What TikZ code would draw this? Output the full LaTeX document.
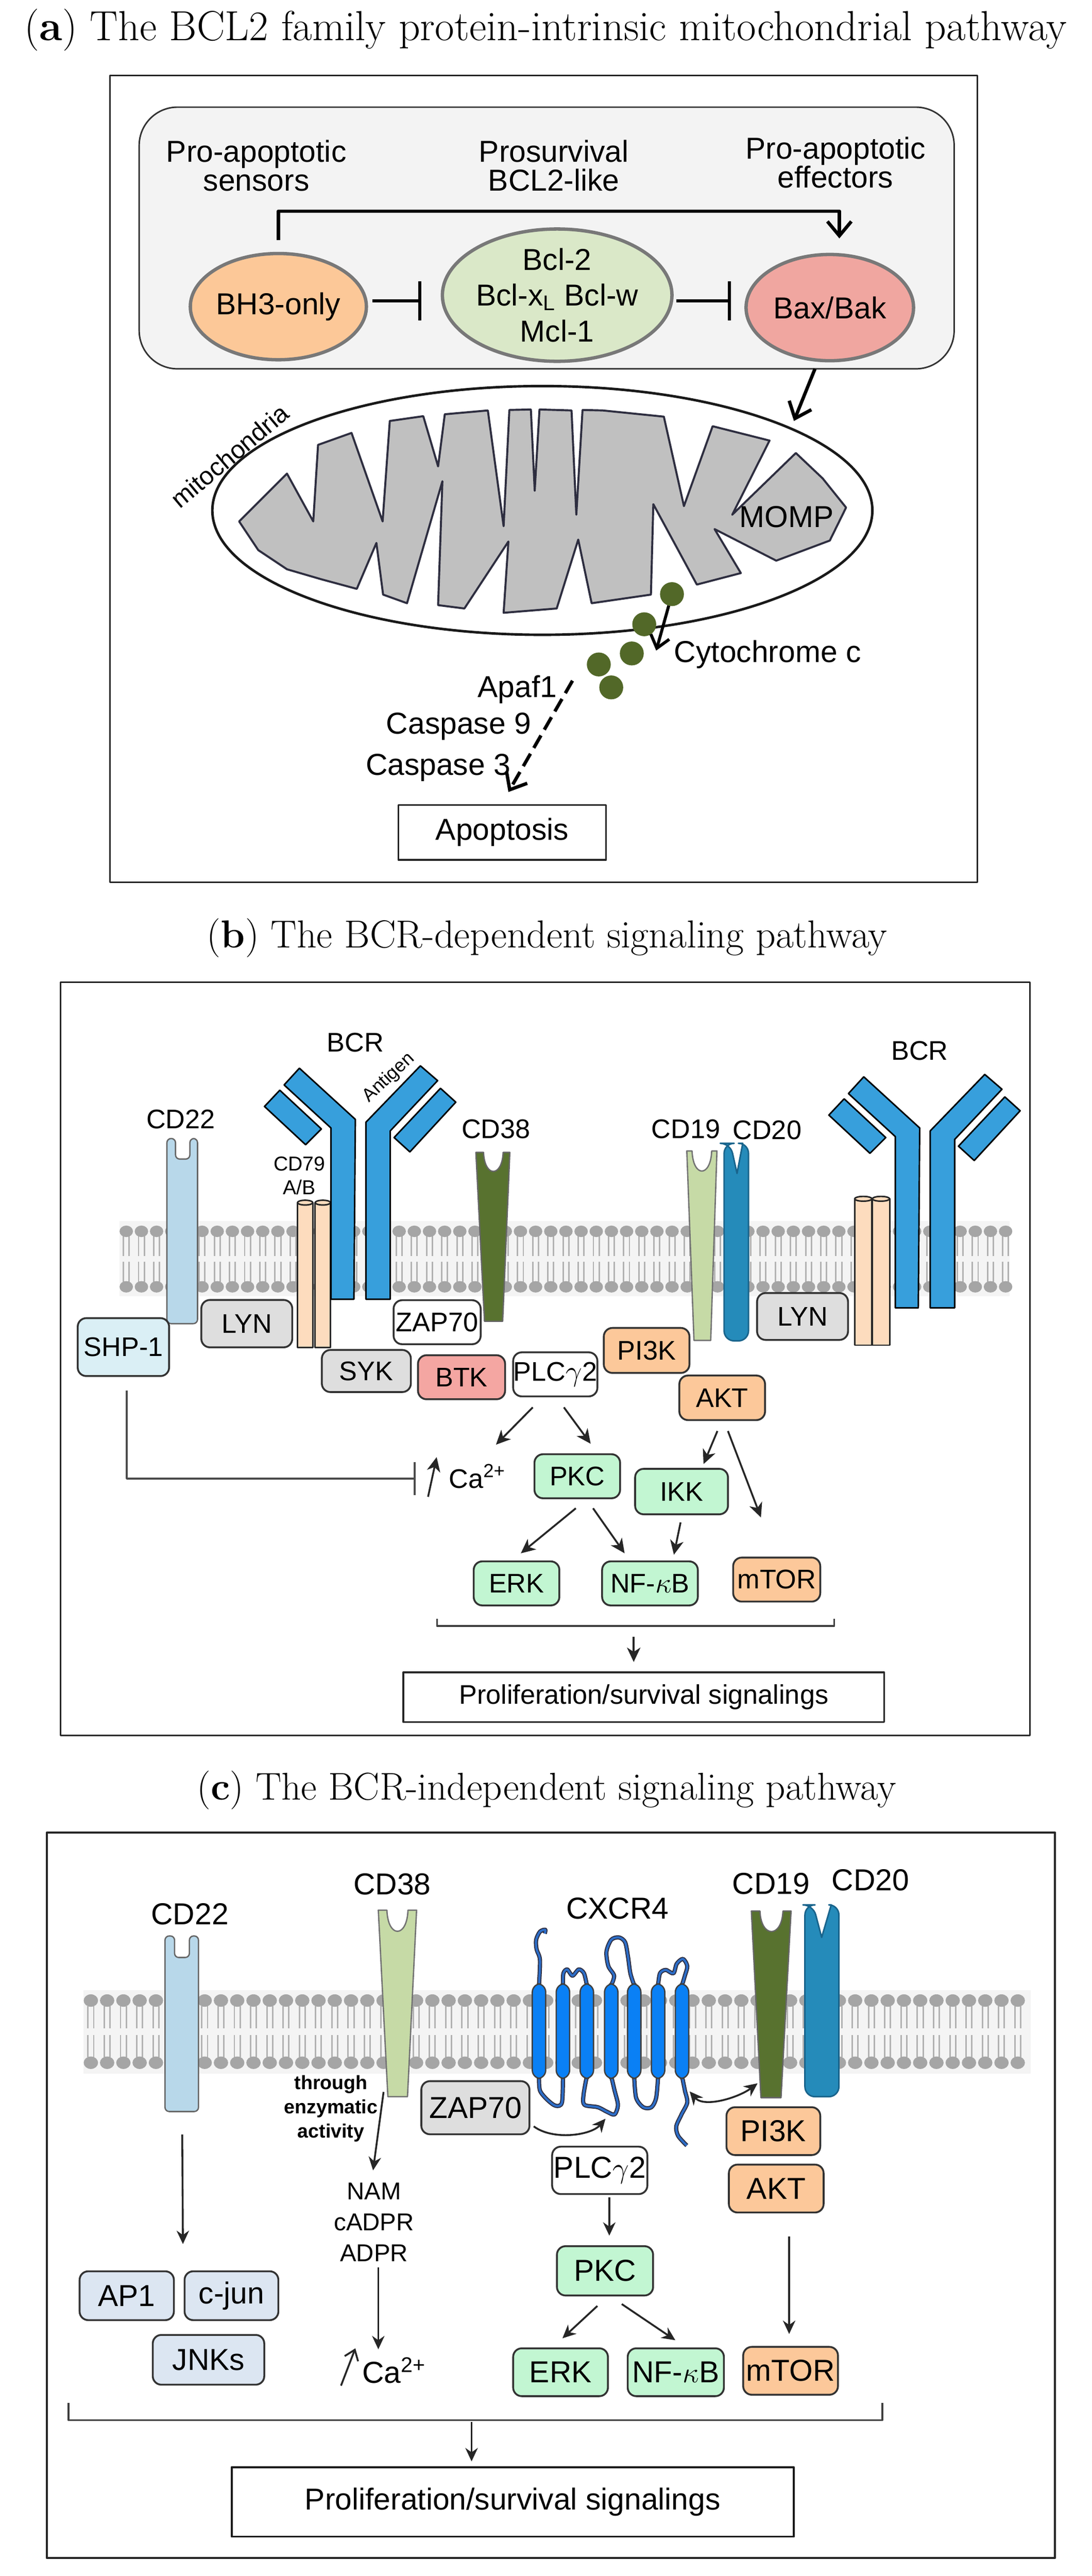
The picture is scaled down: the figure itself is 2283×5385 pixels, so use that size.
\documentclass[tikz,border=0pt]{standalone}
\usepackage{fontspec}
\setsansfont{Liberation Sans}
\usetikzlibrary{shapes.geometric,arrows.meta,calc}

\definecolor{grpgray}{RGB}{243,243,243}
\definecolor{bhfill}{RGB}{252,200,152}
\definecolor{bclfill}{RGB}{218,232,200}
\definecolor{baxfill}{RGB}{240,166,160}
\definecolor{ellline}{RGB}{120,120,120}
\definecolor{mitofill}{RGB}{192,192,192}
\definecolor{mitoline}{RGB}{46,46,64}
\definecolor{cytc}{RGB}{82,104,40}
\definecolor{bcrblue}{RGB}{55,159,220}
\definecolor{cdblue}{RGB}{184,216,234}
\definecolor{cylpeach}{RGB}{253,220,190}
\definecolor{darkolive}{RGB}{88,114,47}
\definecolor{palegreen}{RGB}{198,218,166}
\definecolor{tealc}{RGB}{37,139,186}
\definecolor{tealline}{RGB}{25,100,140}
\definecolor{shpfill}{RGB}{218,239,245}
\definecolor{greybox}{RGB}{222,222,222}
\definecolor{btkfill}{RGB}{244,166,162}
\definecolor{peach}{RGB}{252,200,154}
\definecolor{mint}{RGB}{194,246,210}
\definecolor{jnkfill}{RGB}{220,230,242}
\definecolor{helixc}{RGB}{10,128,245}
\definecolor{loopc}{RGB}{45,110,200}
\definecolor{lipid}{RGB}{165,165,165}
\definecolor{lipidtail}{RGB}{178,178,178}
\definecolor{lipidbg}{RGB}{244,244,244}

\newcommand{\fntttl}[1]{\rmfamily\fontsize{#1}{28}\selectfont}
\newcommand{\fnta}{\sffamily\fontsize{18}{17.3}\selectfont}
\newcommand{\fntbcl}{\sffamily\fontsize{18}{21.2}\selectfont}
\newcommand{\fntb}{\sffamily\fontsize{16}{18}\selectfont}
\newcommand{\fntc}{\sffamily\fontsize{18}{20}\selectfont}
\newcommand{\fntcd}{\sffamily\fontsize{12}{14.2}\selectfont}
\newcommand{\fntag}{\sffamily\fontsize{11}{13}\selectfont}
\newcommand{\fntth}{\sffamily\bfseries\fontsize{11.5}{14.5}\selectfont}
\newcommand{\fntnam}{\sffamily\fontsize{14.5}{18.4}\selectfont}
\newcommand{\fntmito}{\sffamily\fontsize{15}{17}\selectfont}

\begin{document}
\begin{tikzpicture}[x=0.01cm,y=-0.01cm,line join=round]
        \tikzstyle{every node}=[inner sep=0pt];
        \tikzstyle{frame}=[draw=black!85, line width=0.9pt];
        \tikzstyle{grpbox}=[draw=black!80, line width=0.9pt, fill=grpgray, rounded corners=0.8cm];
        \tikzstyle{bcl2}=[ellipse, draw=ellline, line width=2pt, font=\fnta];
        \tikzstyle{arA}=[line width=2pt, -{Straight Barb[length=0.3cm, width=0.5cm]}];
        \tikzstyle{arA2}=[line width=1.8pt, shorten <=0.25cm, -{Straight Barb[length=0.25cm, width=0.4cm]}];
        \tikzstyle{inhA}=[line width=2pt, -{Bar[width=0.81cm]}];
        \tikzstyle{tail}=[draw=lipidtail, line width=0.9pt];
        \tikzstyle{prot}=[draw=black!80, line width=1.1pt, rounded corners=0.18cm];
        \tikzstyle{protb}=[prot, font=\fntb, minimum width=1.8cm, minimum height=0.92cm];
        \tikzstyle{protc}=[prot, font=\fntc, minimum width=1.98cm, minimum height=1cm];
        \tikzstyle{arB}=[draw=black!85, line width=1.1pt, -{Stealth[length=0.3cm, width=0.28cm, inset=0.09cm]}];
        \tikzstyle{arC}=[draw=black!85, line width=1.1pt, -{Stealth[length=0.28cm, width=0.26cm]}];
        \tikzstyle{inhB}=[draw=black!70, line width=1.1pt, -{Bar[width=0.69cm]}];
        \tikzstyle{brace}=[draw=black!75, line width=1.1pt];
        \tikzstyle{bcrst}=[fill=bcrblue, draw=black, line width=0.9pt];
        \tikzstyle{cylst}=[fill=cylpeach, draw=black!85, line width=0.9pt];
        \tikzstyle{cdbst}=[fill=cdblue, draw=black!60, line width=0.8pt, rounded corners=2.5pt];
        \tikzstyle{olivest}=[fill=darkolive, draw=black!60, line width=0.8pt];
        \tikzstyle{palest}=[fill=palegreen, draw=black!55, line width=0.8pt];
        \tikzstyle{tealst}=[fill=tealc, draw=tealline, line width=0.9pt];
        \tikzstyle{helixst}=[fill=helixc, draw=black!75, line width=0.8pt, rounded corners=5pt];
        \tikzstyle{loopst}=[draw=mitoline, double=loopc, double distance=1.3pt, line width=0.6pt];

        \fill[white] (0,0) rectangle (2283,5385);
        \useasboundingbox (0,0) rectangle (2283,5385);

        % (a) BCL2 family pathway
        \node[font=\fntttl{25}] (ttlA) at (1141,63) {(\textbf{a}) The BCL2 family protein-intrinsic mitochondrial pathway};
        \draw[frame] (230,158) rectangle (2044,1844);
        \draw[grpbox] (291,224) rectangle (1995,771);
        \coordinate (grpfoot) at (1704,771);
        \node[font=\fnta, align=center] (sensA) at (536,346) {Pro-apoptotic\\sensors};
        \node[font=\fnta, align=center] (survA) at (1158,346) {Prosurvival\\BCL2-like};
        \node[font=\fnta, align=center] (effA) at (1747,340) {Pro-apoptotic\\effectors};
        \node[bcl2, fill=bhfill, minimum width=3.46cm, minimum height=2.22cm] (bh3) at (582,641) {BH3-only};
        \node[bcl2, fill=bclfill, minimum width=3.96cm, minimum height=2.52cm, align=center, font=\fntbcl] (bcl) at (1165,617) {Bcl-2\\Bcl-x\textsubscript{L} Bcl-w\\Mcl-1};
        \node[bcl2, fill=baxfill, minimum width=3.5cm, minimum height=2.22cm] (bax) at (1735,643) {Bax/Bak};
        \draw[inhA] ($(bh3.east)+(9,-12)$) -- ($(bcl.west)+(-40,12)$);
        \draw[inhA] ($(bcl.east)+(6,12)$) -- ($(bax.west)+(-28,-14)$);
        \draw[arA] ($(bh3.north)+(0,-25)$) -- ++(0,-60) -| ($(bax.north)+(20,-30)$);

        \draw[draw=black!90, line width=1.5pt, fill=white] (1134,1067) ellipse (690 and 260);
        \coordinate (mitoedge) at (1660,880);
        \draw[arA] (grpfoot) -- (mitoedge);
        \draw[fill=mitofill, draw=mitoline, line width=1.2pt] (500,1090) -- (600,990) -- (655,1090) -- (665,930) -- (735,905) -- (800,1090) -- (815,880) -- (885,870) -- (916,975) -- (930,866) -- (1020,858) -- (1053,1100) -- (1065,857) -- (1110,856) -- (1118,1026) -- (1128,856) -- (1195,858) -- (1205,1076) -- (1218,857) -- (1260,858) -- (1388,871) -- (1430,1058) -- (1490,891) -- (1609,921) -- (1531,1076) -- (1664,947) -- (1720,1000) -- (1769,1061) -- (1735,1130) -- (1623,1172) -- (1494,1106) -- (1549,1198) -- (1457,1222) -- (1366,1054) -- (1361,1243) -- (1237,1261) -- (1209,1128) -- (1164,1272) -- (1053,1281) -- (1063,1132) -- (971,1272) -- (916,1265) -- (925,1006) -- (851,1261) -- (801,1243) -- (787,1135) -- (746,1231) -- (672,1211) -- (600,1190) -- (540,1150) -- cycle;
        \node[font=\fntmito, rotate=40] (mitoA) at (480,953) {mitochondria};
        \node[font=\fnta] (momp) at (1645,1081) {MOMP};

        \foreach \n/\x/\y in {c1/1405/1242, c2/1347/1305, c3/1321/1366, c4/1252/1389, c5/1278/1437} {
            \coordinate (\n) at (\x,\y);
            \fill[cytc] (\n) circle (25);
        }
        \node[font=\fnta, anchor=west] (cyt) at (1409,1368) {Cytochrome c};
        \draw[arA2] (c1) -- ($(cyt.west)+(-37,-8)$);
        \node[font=\fnta, anchor=east] (apaf) at (1165,1441) {Apaf1};
        \node[font=\fnta, anchor=east] (casp9) at (1111,1519) {Caspase 9};
        \node[font=\fnta, anchor=east] (casp3) at (1068,1605) {Caspase 3};
        \node[draw=black!85, line width=1pt, font=\fnta, minimum width=4.34cm, minimum height=1.15cm] (apop) at (1050,1740) {Apoptosis};
        \draw[arA, dash pattern=on 0.3cm off 0.14cm] ($(apaf.east)+(32,-18)$) -- ($(apop.north)+(13,-25)$);

        % (b) BCR-dependent pathway
        \node[font=\fntttl{23.2}] (ttlB) at (1144,1961) {(\textbf{b}) The BCR-dependent signaling pathway};
        \draw[frame] (127,2053) rectangle (2153,3628);
        \fill[lipidbg] (250,2553) rectangle (2111,2710);
        \foreach \i [evaluate=\i as \x using 264+31.7*\i] in {0,...,58} {
            \draw[tail] (\x-6,2584) -- (\x-6,2626) (\x+6,2584) -- (\x+6,2626) (\x-6,2638) -- (\x-6,2680) (\x+6,2638) -- (\x+6,2680);
            \fill[lipid] (\x,2574) ellipse (14 and 12) (\x,2690) ellipse (14 and 12);
        }
        \draw[cdbst] (349,2767) -- (349,2380) -- (367,2380) -- (367,2423) -- (397,2423) -- (397,2380) -- (413,2380) -- (413,2767) -- cycle;
        \node[font=\fntb] (cd22b) at (378,2340) {CD22};
        \foreach \x/\w/\t/\b in {622/32/2514/2817, 659/32/2514/2817, 1787/36/2506/2812, 1824/36/2506/2812} {
            \filldraw[cylst] (\x,\t) rectangle (\x+\w,\b);
            \filldraw[cylst] (\x+\w/2,\t) ellipse (\w/2 and 5);
        }
        \node[font=\fntcd, align=center] (cd79) at (626,2458) {CD79\\A/B};
        \foreach \dx/\dy in {0/0, 1180/18} {
            \begin{scope}[shift={(\dx,\dy)}]
                \draw[bcrst] (692,2716) -- (692,2358) -- (594,2268) -- (626,2233) -- (743,2340) -- (740,2716) -- cycle;
                \draw[bcrst] (553,2313) -- (585,2279) -- (672,2360) -- (639,2393) -- cycle;
                \draw[bcrst] (765,2716) -- (765,2346) -- (879,2228) -- (915,2259) -- (816,2364) -- (816,2716) -- cycle;
                \draw[bcrst] (824,2378) -- (921,2275) -- (953,2304) -- (857,2408) -- cycle;
                \node[font=\fntb] (bcrlbl\dx) at (743,2179) {BCR};
            \end{scope}
        }
        \node[font=\fntag, rotate=43] (antigen) at (813,2253) {Antigen};
        \draw[olivest] (995,2409) -- (1013,2762) -- (1051,2762) -- (1066,2409) -- (1052,2409) .. controls (1050,2462) and (1013,2462) .. (1011,2409) -- cycle;
        \node[font=\fntb] (cd38b) at (1037,2360) {CD38};
        \draw[palest] (1436,2406) -- (1451,2802) -- (1486,2802) -- (1499,2406) -- (1488,2406) .. controls (1486,2462) and (1449,2462) .. (1447,2406) -- cycle;
        \draw[tealst, rounded corners=6pt] (1514,2803) -- (1514,2390) -- (1527,2390) [sharp corners] -- (1541,2453) -- (1553,2390) [rounded corners=6pt] -- (1565,2390) -- (1565,2803) -- cycle;
        \node[font=\fntb] (cd19b) at (1434,2360) {CD19};
        \node[font=\fntb] (cd20b) at (1604,2362) {CD20};

        \node[protb, fill=shpfill, minimum width=1.91cm, minimum height=1.21cm] (shp) at (258,2816) {SHP-1};
        \node[protb, fill=greybox, minimum width=1.9cm, minimum height=0.99cm] (lynl) at (516,2767) {LYN};
        \node[protb, fill=white, minimum width=1.82cm] (zapb) at (914,2764) {ZAP70};
        \node[protb, fill=greybox, minimum width=1.86cm, minimum height=0.88cm] (syk) at (766,2866) {SYK};
        \node[protb, fill=btkfill, minimum width=1.82cm] (btk) at (965,2879) {BTK};
        \node[protb, fill=white, minimum width=1.76cm] (plcb) at (1161,2873) {PLC$\gamma$2};
        \node[protb, fill=peach, minimum width=1.79cm, minimum height=0.94cm] (pi3kb) at (1352,2823) {PI3K};
        \node[protb, fill=peach, minimum width=1.79cm, minimum height=0.93cm] (aktb) at (1510,2922) {AKT};
        \node[protb, fill=greybox, minimum width=1.9cm, minimum height=0.98cm] (lynr) at (1678,2752) {LYN};
        \node[protb, fill=mint, minimum width=1.79cm] (pkcb) at (1207,3086) {PKC};
        \node[protb, fill=mint, minimum width=1.94cm, minimum height=0.95cm] (ikk) at (1425,3118) {IKK};
        \node[protb, fill=mint, minimum width=1.79cm] (erkb) at (1080,3310) {ERK};
        \node[protb, fill=mint, minimum width=2cm] (nfkbb) at (1359,3310) {NF-$\kappa$B};
        \node[protb, fill=peach, minimum width=1.82cm] (mtorb) at (1624,3302) {mTOR};
        \node[font=\fntb, anchor=west] (cab) at (938,3086) {Ca\textsuperscript{2+}};

        \draw[arB] ($(plcb.south)+(-47,21)$) -- ($(cab.west)+(99,-66)$);
        \draw[arB] ($(plcb.south)+(18,21)$) -- ($(pkcb.north)+(28,-20)$);
        \draw[arB] ($(aktb.south)+(-10,21)$) -- ($(ikk.north)+(46,-8)$);
        \draw[arB] ($(aktb.south)+(12,21)$) -- ($(mtorb.north)+(-33,-82)$);
        \draw[arB] ($(pkcb.south)+(-3,19)$) -- ($(erkb.north)+(9,-15)$);
        \draw[arB] ($(pkcb.south)+(33,19)$) -- ($(nfkbb.north)+(-53,-15)$);
        \draw[arB] ($(ikk.south)+(-2,15)$) -- ($(nfkbb.north)+(50,-12)$);
        \draw[arB] ($(cab.west)+(-43,43)$) -- ($(cab.west)+(-25,-40)$);
        \draw[inhB] ($(shp.south)+(7,28)$) |- ($(cab.west)+(-69,5)$);
        \draw[brace] (914,3384) -- (914,3399) -- (1744,3399) -- (1744,3384);
        \coordinate (brB) at (1325,3399);
        \node[draw=black!85, line width=1pt, font=\fntb, minimum width=10.05cm, minimum height=1.04cm] (prolB) at (1346,3548) {Proliferation/survival signalings};
        \draw[arB] ($(brB)+(0,23)$) -- ($(prolB.north)+(-21,-20)$);

        % (c) BCR-independent pathway
        \node[font=\fntttl{23}] (ttlC) at (1143,3742) {(\textbf{c}) The BCR-independent signaling pathway};
        \draw[frame, line width=1.3pt] (98,3831) rectangle (2206,5347);
        \fill[lipidbg] (175,4160) rectangle (2155,4335);
        \foreach \i [evaluate=\i as \x using 190+34*\i] in {0,...,57} {
            \draw[tail] (\x-6,4194) -- (\x-6,4240) (\x+6,4194) -- (\x+6,4240) (\x-6,4254) -- (\x-6,4300) (\x+6,4254) -- (\x+6,4300);
            \fill[lipid] (\x,4182) ellipse (15 and 13) (\x,4312) ellipse (15 and 13);
        }
        \draw[cdbst] (345,4414) -- (345,4047) -- (365,4047) -- (365,4092) -- (396,4092) -- (396,4047) -- (415,4047) -- (415,4414) -- cycle;
        \coordinate (cd22foot) at (381,4414);
        \node[font=\fntc] (cd22c) at (397,4001) {CD22};
        \draw[palest] (791,3993) -- (811,4383) -- (852,4383) -- (871,3993) -- (853,3993) .. controls (851,4052) and (811,4052) .. (809,3993) -- cycle;
        \coordinate (cd38foot) at (831,4383);
        \node[font=\fntc] (cd38c) at (820,3939) {CD38};
        \draw[loopst] plot[smooth] coordinates {(1127,4150) (1129,4097) (1122,4075) (1121,4055) (1129,4038) (1140,4034) (1139,4042)};
        \draw[loopst] plot[smooth] coordinates {(1177,4150) (1178,4125) (1186,4117) (1197,4130) (1210,4117) (1221,4125) (1227,4150)};
        \draw[loopst] plot[smooth] coordinates {(1278,4150) (1284,4130) (1272,4110) (1268,4080) (1278,4055) (1294,4050) (1307,4060) (1313,4090) (1318,4125) (1326,4150)};
        \draw[loopst] plot[smooth] coordinates {(1376,4150) (1380,4125) (1392,4118) (1408,4125) (1415,4105) (1428,4095) (1437,4110) (1432,4130) (1426,4150)};
        \draw[loopst] plot[smooth] coordinates {(1127,4340) (1129,4370) (1145,4390) (1162,4402) (1175,4395) (1177,4340)};
        \draw[loopst] plot[smooth] coordinates {(1227,4340) (1220,4380) (1222,4400) (1250,4405) (1270,4415) (1285,4420) (1292,4400) (1285,4370) (1278,4340)};
        \draw[loopst] plot[smooth] coordinates {(1326,4340) (1330,4385) (1345,4405) (1362,4405) (1372,4385) (1376,4340)};
        \draw[loopst] plot[smooth] coordinates {(1426,4340) (1432,4370) (1437,4395) (1425,4420) (1414,4445) (1418,4465) (1436,4485)};
        \foreach \x in {1127,1177,1227,1278,1326,1376,1426}
            \draw[helixst] (\x-14,4147) rectangle (\x+14,4345);
        \coordinate (icl2) at (1266,4429);
        \coordinate (cterm) at (1442,4372);
        \node[font=\fntc] (cxcr4) at (1291,3989) {CXCR4};
        \draw[olivest] (1571,3995) -- (1591,4385) -- (1633,4385) -- (1654,3995) -- (1637,3995) .. controls (1635,4052) and (1591,4052) .. (1589,3995) -- cycle;
        \coordinate (cd19tip) at (1584,4355);
        \draw[tealst, rounded corners=6pt] (1683,4383) -- (1683,3982) -- (1700,3982) [sharp corners] -- (1718,4050) -- (1738,3982) [rounded corners=6pt] -- (1754,3982) -- (1754,4383) -- cycle;
        \node[font=\fntc] (cd19c) at (1612,3938) {CD19};
        \node[font=\fntc] (cd20c) at (1820,3930) {CD20};

        \node[protc, fill=greybox, minimum width=2.26cm, minimum height=1.11cm] (zapc) at (994,4406) {ZAP70};
        \node[protc, fill=white, minimum width=1.99cm, minimum height=0.99cm] (plcc) at (1254,4537) {PLC$\gamma$2};
        \node[protc, fill=mint, minimum width=2.01cm, minimum height=1.03cm] (pkcc) at (1265,4747) {PKC};
        \node[protc, fill=mint] (erkc) at (1172,4959) {ERK};
        \node[protc, fill=mint, minimum width=2.01cm] (nfkbc) at (1413,4959) {NF-$\kappa$B};
        \node[protc, fill=peach] (mtorc) at (1653,4956) {mTOR};
        \node[protc, fill=peach, minimum width=1.96cm] (pi3kc) at (1617,4455) {PI3K};
        \node[protc, fill=peach] (aktc) at (1623,4575) {AKT};
        \node[protc, fill=jnkfill, minimum width=1.97cm, minimum height=1.02cm] (ap1) at (265,4799) {AP1};
        \node[protc, fill=jnkfill, minimum width=1.96cm, minimum height=1.02cm] (cjun) at (484,4799) {c-jun};
        \node[protc, fill=jnkfill, minimum width=2.33cm, minimum height=1.04cm] (jnks) at (436,4933) {JNKs};
        \node[font=\fntth, align=center] (enzy) at (692,4408) {through\\enzymatic\\activity};
        \node[font=\fntnam, align=center] (nam) at (782,4645) {NAM\\cADPR\\ADPR};
        \node[font=\fntc, anchor=west] (cac) at (757,4955) {Ca\textsuperscript{2+}};

        \draw[arC] ($(cd22foot)+(0,48)$) -- ($(ap1.north east)+(17,-55)$);
        \draw[arC] ($(cd38foot)+(-29,-10)$) -- ($(nam.north)+(-2,-25)$);
        \draw[arC] ($(nam.south)+(9,12)$) -- ($(cac.west)+(34,-44)$);
        \draw[arC, -{Straight Barb[length=0.2cm, width=0.3cm]}] ($(cac.west)+(-44,32)$) -- ($(cac.west)+(-14,-46)$);
        \draw[arC] ($(zapc.east)+(7,39)$) .. controls +(40,30) and +(-30,35) .. (icl2);
        \draw[arC, {Stealth[length=0.28cm, width=0.26cm]}-{Stealth[length=0.28cm, width=0.26cm]}] (cterm) .. controls +(30,35) and +(-40,30) .. (cd19tip);
        \draw[arC] ($(plcc.south)+(20,5)$) -- ($(pkcc.north)+(9,-20)$);
        \draw[arC] ($(pkcc.south)+(-16,20)$) -- ($(erkc.north)+(4,-19)$);
        \draw[arC] ($(pkcc.south)+(35,16)$) -- ($(nfkbc.north)+(-1,-15)$);
        \draw[arC] ($(aktc.south)+(27,48)$) -- ($(mtorc.north)+(-3,-25)$);
        \draw[brace] (143,5023) -- (143,5059) -- (1845,5059) -- (1845,5023);
        \coordinate (brC) at (986,5059);
        \node[draw=black!90, line width=1.2pt, font=\fntc, minimum width=11.75cm, minimum height=1.45cm] (prolC) at (1072,5230) {Proliferation/survival signalings};
        \draw[arC] ($(brC)+(0,4)$) -- ($(prolC.north)+(-86,-10)$);
\end{tikzpicture}
\end{document}
